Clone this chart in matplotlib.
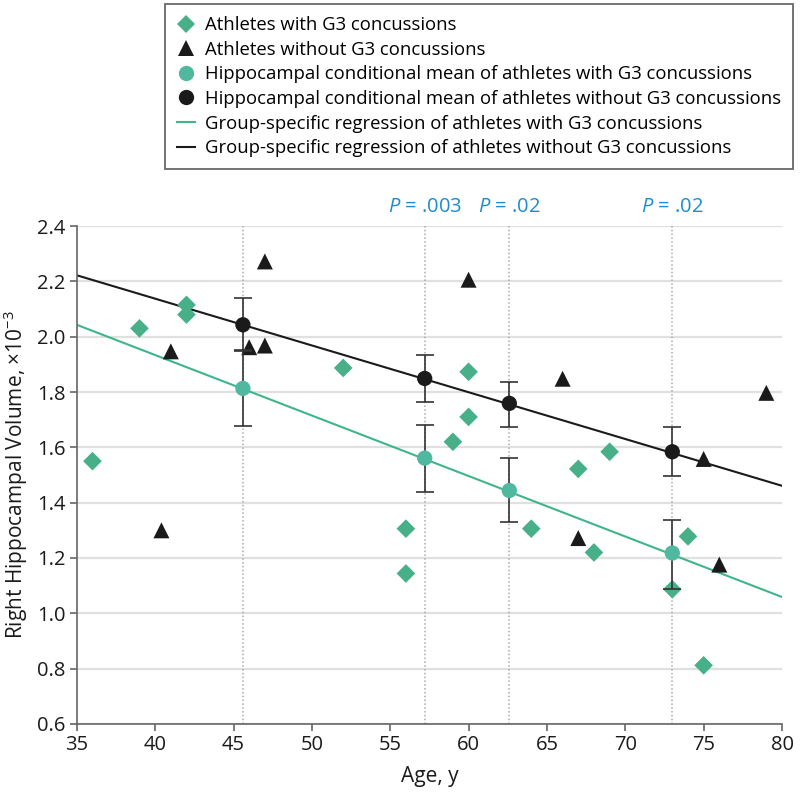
import matplotlib
matplotlib.use("Agg")
import matplotlib.pyplot as plt
from matplotlib.lines import Line2D
import numpy as np

plt.rcParams['font.family'] = ['Open Sans', 'DejaVu Sans']
plt.rcParams['mathtext.fontset'] = 'custom'
plt.rcParams['mathtext.rm'] = 'Open Sans'
plt.rcParams['mathtext.it'] = 'Open Sans:italic'

# Data
with_age = [36, 39, 42, 42, 52, 56, 56, 59, 60, 60, 64, 67, 68, 69, 73, 74, 75]
with_vol = [1.55, 2.03, 2.115, 2.08, 1.887, 1.306, 1.144, 1.62, 1.71, 1.873, 1.306, 1.522, 1.22, 1.584, 1.087, 1.278, 0.812]

without_age = [40.4, 41, 46, 47, 47, 60, 66, 67, 75, 76, 79]
without_vol = [1.30, 1.947, 1.962, 1.968, 2.272, 2.206, 1.848, 1.272, 1.558, 1.176, 1.797]

mean_age = [45.6, 57.2, 62.6, 73.0]
mean_with = [1.813, 1.561, 1.444, 1.218]
mean_with_lo = [1.678, 1.438, 1.329, 1.088]
mean_with_hi = [1.953, 1.681, 1.560, 1.338]
mean_without = [2.043, 1.849, 1.759, 1.584]
mean_without_lo = [1.950, 1.764, 1.674, 1.495]
mean_without_hi = [2.140, 1.932, 1.838, 1.672]

reg_x = [35, 80]
reg_with = [2.043, 1.059]
reg_without = [2.222, 1.461]

p_labels = ['', 'P = .003', 'P = .02', 'P = .02']

GREEN = '#48b089'
TEAL = '#4fb89e'
LINEGREEN = '#3fb58a'
BLACK = '#1a1a1a'
BLUE = '#1b8dcf'

fig = plt.figure(figsize=(8.0, 7.92), dpi=100)
ax = fig.add_axes([0.096, 0.0859, 0.8815, 0.6287])

ax.set_xlim(35, 80)
ax.set_ylim(0.6, 2.4)
ax.set_xticks(np.arange(35, 81, 5))
yt = np.round(np.arange(0.6, 2.41, 0.2), 1)
ax.set_yticks(yt)
ax.set_yticklabels([f'{v:.1f}' for v in yt])
ax.yaxis.grid(True, color='#e0e0e0', linewidth=1.6, zorder=0)
ax.set_axisbelow(True)
for s in ['top', 'right']:
    ax.spines[s].set_visible(False)
for s in ['left', 'bottom']:
    ax.spines[s].set_color('#666666')
    ax.spines[s].set_linewidth(1.2)
ax.tick_params(axis='both', direction='out', length=5, width=1.2, color='#666666',
               labelsize=14.5, labelcolor='#1a1a1a', pad=3)

for xv in mean_age:
    ax.axvline(xv, color='#aaaaaa', linestyle=(0, (1, 1.5)), linewidth=1.1, zorder=1)

ax.plot(reg_x, reg_without, color=BLACK, linewidth=1.5, zorder=2)
ax.plot(reg_x, reg_with, color=LINEGREEN, linewidth=1.5, zorder=2)

ax.scatter(with_age, with_vol, marker='D', s=9.5**2, color=GREEN, edgecolors='none', zorder=3)
ax.scatter(without_age, without_vol, marker='^', s=11.5**2, color=BLACK, edgecolors='none', zorder=3)

ax.errorbar(mean_age, mean_with,
            yerr=[np.array(mean_with) - np.array(mean_with_lo), np.array(mean_with_hi) - np.array(mean_with)],
            fmt='none', ecolor='#333333', elinewidth=1.2, capsize=6.5, capthick=1.2, zorder=4)
ax.errorbar(mean_age, mean_without,
            yerr=[np.array(mean_without) - np.array(mean_without_lo), np.array(mean_without_hi) - np.array(mean_without)],
            fmt='none', ecolor='#333333', elinewidth=1.2, capsize=6.5, capthick=1.2, zorder=4)
ax.scatter(mean_age, mean_with, marker='o', s=11**2, color=TEAL, edgecolors='none', zorder=5)
ax.scatter(mean_age, mean_without, marker='o', s=11**2, color=BLACK, edgecolors='none', zorder=5)

for xv, lab in zip(mean_age, p_labels):
    if lab:
        txt = r'$\mathit{P}$' + lab[1:]
        ax.text(xv, 2.432, txt, ha='center', va='bottom', color=BLUE, fontsize=14.5,
                transform=ax.transData, clip_on=False)

ax.set_xlabel('Age, y', fontsize=15, color='#1a1a1a', labelpad=8)
ax.set_ylabel(r'Right Hippocampal Volume, ×10$^{-3}$', fontsize=15, color='#1a1a1a', labelpad=5)

handles = [
    Line2D([], [], marker='D', linestyle='none', color=GREEN, markersize=9.5, markeredgewidth=0),
    Line2D([], [], marker='^', linestyle='none', color=BLACK, markersize=11.5, markeredgewidth=0),
    Line2D([], [], marker='o', linestyle='none', color=TEAL, markersize=11, markeredgewidth=0),
    Line2D([], [], marker='o', linestyle='none', color=BLACK, markersize=11, markeredgewidth=0),
    Line2D([], [], color=LINEGREEN, linewidth=1.5),
    Line2D([], [], color=BLACK, linewidth=1.5),
]
labels = [
    'Athletes with G3 concussions',
    'Athletes without G3 concussions',
    'Hippocampal conditional mean of athletes with G3 concussions',
    'Hippocampal conditional mean of athletes without G3 concussions',
    'Group-specific regression of athletes with G3 concussions',
    'Group-specific regression of athletes without G3 concussions',
]
leg = fig.legend(handles, labels, loc='upper right', bbox_to_anchor=(0.991, 0.995),
                 frameon=True, fancybox=False, edgecolor='#444444', fontsize=13.3,
                 handlelength=1.0, handletextpad=0.5, labelspacing=0.36,
                 borderpad=0.65, borderaxespad=0)
leg.get_frame().set_linewidth(1.3)

fig.savefig('out.png', dpi=100)
